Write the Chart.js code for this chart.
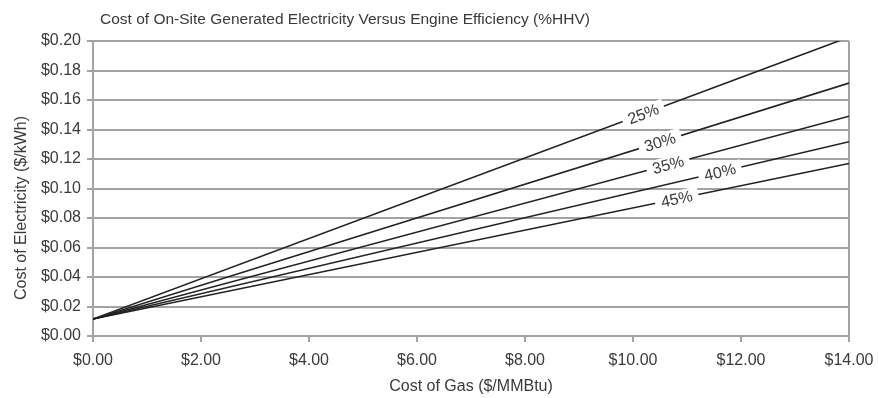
<!DOCTYPE html>
<html>
<head>
<meta charset="utf-8">
<script src="https://cdn.jsdelivr.net/npm/chart.js@4/dist/chart.umd.min.js"></script>
<style>
  html, body { margin: 0; padding: 0; background: #fff; }
  #wrap { width: 878px; height: 398px; }
</style>
</head>
<body>
<div id="wrap"><canvas id="costChart"></canvas></div>
<script>
// Data block
const gasCost = [0, 14];
const efficiencyLabels = ['25%', '30%', '35%', '40%', '45%'];
const elec25 = [0.0115, 0.2026];
const elec30 = [0.0115, 0.1715];
const elec35 = [0.0115, 0.1490];
const elec40 = [0.0115, 0.1317];
const elec45 = [0.0115, 0.1170];
// gas cost where each percent label sits on its line
const labelAtGas = [10.19, 10.50, 10.65, 11.61, 10.81];

const seriesValues = [elec25, elec30, elec35, elec40, elec45];
const FONT = "'Liberation Sans', Arial, sans-serif";
const GRID = '#a3a3a3';
const TEXT = '#3a3a3a';

const toPoints = values => gasCost.map((g, i) => ({ x: g, y: values[i] }));

const costData = {
    datasets: seriesValues.map((values, i) => ({
        label: efficiencyLabels[i],
        data: toPoints(values),
        showLine: true,
        borderColor: '#222',
        borderWidth: 1.6,
        pointRadius: 0,
        fill: false
    }))
};

// Title, axis titles, plot frame and line labels
const costDecor = {
    id: 'costDecor',
    beforeDatasetsDraw(chart) {
        const { ctx, chartArea } = chart;
        ctx.save();
        ctx.strokeStyle = GRID;
        ctx.lineWidth = 2;
        ctx.beginPath();
        ctx.moveTo(chartArea.right, chartArea.top);
        ctx.lineTo(chartArea.right, chartArea.bottom);
        ctx.stroke();
        ctx.restore();
    },
    afterDatasetsDraw(chart) {
        const { ctx, chartArea } = chart;
        const xs = chart.scales.x, ys = chart.scales.y;
        ctx.save();
        ctx.font = '16px ' + FONT;
        ctx.textAlign = 'center';
        ctx.textBaseline = 'middle';
        seriesValues.forEach((values, i) => {
            const g = labelAtGas[i];
            const x0 = xs.getPixelForValue(gasCost[0]), y0 = ys.getPixelForValue(values[0]);
            const x1 = xs.getPixelForValue(gasCost[1]), y1 = ys.getPixelForValue(values[1]);
            const t = (g - gasCost[0]) / (gasCost[1] - gasCost[0]);
            const px = x0 + (x1 - x0) * t;
            const py = y0 + (y1 - y0) * t;
            const ang = Math.atan2(y1 - y0, x1 - x0);
            const w = ctx.measureText(efficiencyLabels[i]).width;
            ctx.save();
            ctx.translate(px, py);
            ctx.rotate(ang);
            ctx.fillStyle = '#fff';
            ctx.fillRect(-w / 2 - 6, -8, w + 12, 16);
            ctx.fillStyle = TEXT;
            ctx.fillText(efficiencyLabels[i], 0, 1);
            ctx.restore();
        });
        ctx.fillStyle = TEXT;
        // chart title
        ctx.font = '15.5px ' + FONT;
        ctx.textAlign = 'left';
        ctx.textBaseline = 'alphabetic';
        ctx.fillText('Cost of On-Site Generated Electricity Versus Engine Efficiency (%HHV)', 100, 24);
        // axis titles
        ctx.font = '16px ' + FONT;
        ctx.textAlign = 'center';
        ctx.textBaseline = 'middle';
        ctx.fillText('Cost of Gas ($/MMBtu)', (chartArea.left + chartArea.right) / 2, 387);
        ctx.translate(22, 208);
        ctx.rotate(-Math.PI / 2);
        ctx.fillText('Cost of Electricity ($/kWh)', 0, 0);
        ctx.restore();
    }
};

const costConfig = {
    type: 'scatter',
    data: costData,
    options: {
        responsive: true,
        maintainAspectRatio: false,
        animation: false,
        layout: { padding: { top: 41, right: 29, left: 0, bottom: 0 } },
        plugins: {
            legend: { display: false },
            tooltip: { enabled: false }
        },
        scales: {
            x: {
                type: 'linear',
                min: 0,
                max: 14,
                afterFit: scale => {
                    scale.height = 62;
                    scale.paddingLeft = 0;
                    scale.paddingRight = 0;
                },
                grid: { drawOnChartArea: false, color: GRID, lineWidth: 2, tickLength: 6 },
                border: { color: GRID, width: 2 },
                ticks: {
                    stepSize: 2,
                    maxRotation: 0,
                    padding: 9,
                    color: TEXT,
                    font: { family: FONT, size: 16 },
                    callback: v => '$' + Number(v).toFixed(2)
                }
            },
            y: {
                min: 0,
                max: 0.2,
                afterFit: scale => {
                    scale.width = 93;
                    scale.paddingTop = 0;
                    scale.paddingBottom = 0;
                },
                grid: { color: GRID, lineWidth: 2, tickLength: 6 },
                border: { color: GRID, width: 2 },
                ticks: {
                    stepSize: 0.02,
                    padding: 6,
                    color: TEXT,
                    font: { family: FONT, size: 16 },
                    callback: v => '$' + Number(v).toFixed(2)
                }
            }
        }
    },
    plugins: [costDecor]
};

const costChart = new Chart(
    document.getElementById('costChart'),
    costConfig
);
</script>
</body>
</html>
